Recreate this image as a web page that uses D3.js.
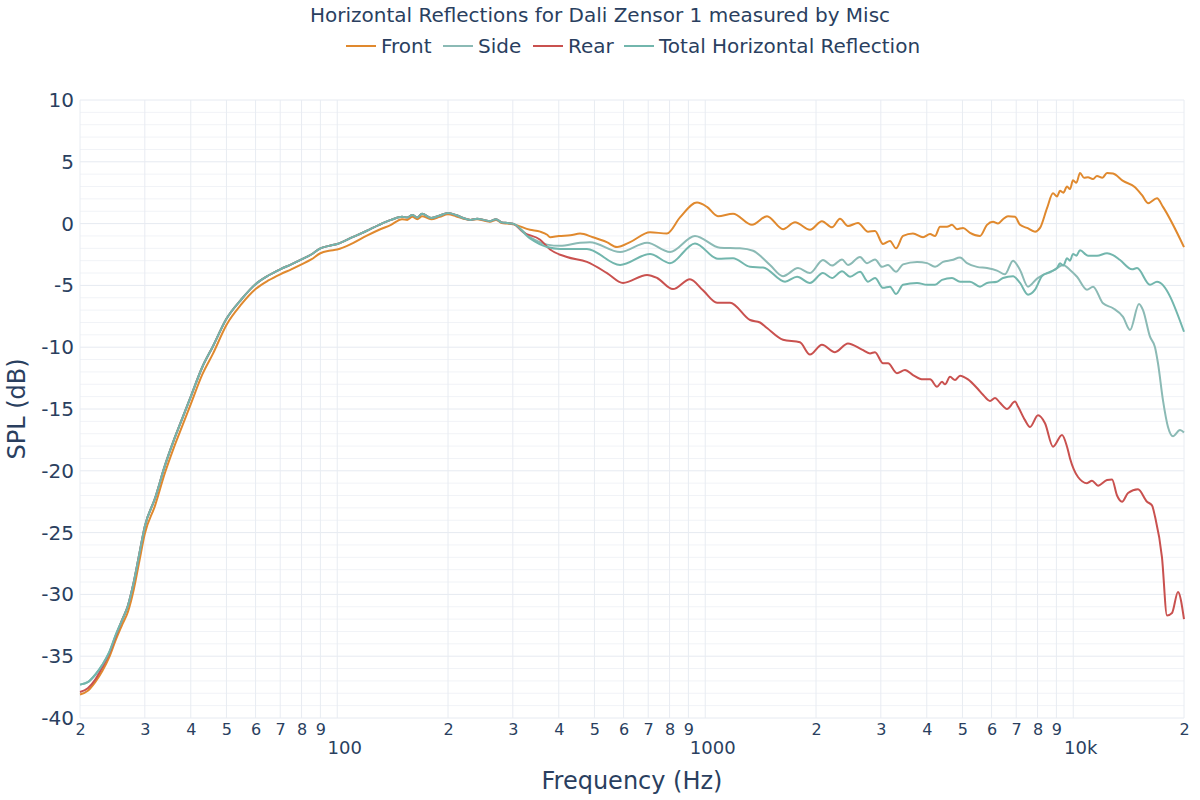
<!DOCTYPE html>
<html>
<head>
<meta charset="utf-8">
<script src="https://cdn.jsdelivr.net/npm/d3@7"></script>
<style>
  html, body { margin: 0; padding: 0; background: #fff; }
  svg { display: block; }
  text { font-family: "DejaVu Sans", Verdana, sans-serif; fill: #2a3f5f; }
</style>
</head>
<body>
<svg id="chart" width="1200" height="800"></svg>
<script>
// ---------------- DATA ----------------
const chartTitle = "Horizontal Reflections for Dali Zensor 1 measured by Misc";
const seriesNames = ["Front", "Side", "Rear", "Total Horizontal Reflection"];
const seriesColors = ["#e0892e", "#8bbab5", "#c9514f", "#72b6ad"];

const xTitle = "Frequency (Hz)";
const yTitle = "SPL (dB)";
const yTicks = [10, 5, 0, -5, -10, -15, -20, -25, -30, -35, -40];
const yTickLabels = ["10", "5", "0", "-5", "-10", "-15", "-20", "-25", "-30", "-35", "-40"];
const xMinorTicks = [20,30,40,50,60,70,80,90,200,300,400,500,600,700,800,900,2000,3000,4000,5000,6000,7000,8000,9000,20000];
const xMinorLabels = ["2","3","4","5","6","7","8","9","2","3","4","5","6","7","8","9","2","3","4","5","6","7","8","9","2"];
const xDecadeTicks = [100, 1000, 10000];
const xDecadeLabels = ["100", "1000", "10k"];

// Front
const frontFreq = [20,21,22,23,24,25,26,27,28,29,30,32,34,36,38,40,43,46,50,55,60,65,70,75,80,85,90,95,100,110,120,130,140,150,155,160,165,170,180,190,200,210,220,230,240,250,260,270,280,290,300,
  334,356,372,379,400,430,457,495,540,576,625,708,787,854,950,1011,1083,1190,1340,1472,1627,1754,1926,2076,2211,2324,2443,2601,2770,2893,3042,3177,3300,3448,3669,3908,4083,4212,4346,4539,4684,4834,5018,5243,5580,5830,6054,6246,6444,6649,6948,7168,7490,7874,8124,8488,8813,9036,9207,9400,9620,9800,9987,10200,10434,10700,10968,11300,11604,12000,12356,12829,13658,14722,15380,15968,16890,17536,20000];
const frontSPL = [-38.1,-37.8,-37.1,-36.2,-35.1,-33.7,-32.5,-31.4,-29.6,-27.3,-25.1,-22.8,-20.2,-18.1,-16.3,-14.6,-12.2,-10.5,-8.2,-6.5,-5.3,-4.6,-4.1,-3.7,-3.3,-2.9,-2.4,-2.2,-2.1,-1.6,-1.0,-0.5,-0.1,0.35,0.3,0.55,0.35,0.6,0.35,0.55,0.75,0.6,0.4,0.3,0.35,0.25,0.15,0.3,0.05,0.0,-0.05,
  -0.5,-0.65,-0.9,-1.1,-1.0,-0.95,-0.8,-1.1,-1.5,-1.9,-1.5,-0.7,-0.8,0.5,1.7,1.35,0.6,0.8,-0.1,0.6,-0.45,0.1,-0.5,0.2,-0.3,0.4,-0.2,0.05,-0.65,-0.6,-1.65,-1.4,-2.0,-1.0,-0.8,-1.1,-0.85,-1.0,-0.25,-0.25,-0.1,-0.45,-0.35,-0.75,-1.0,-0.1,0.15,0.0,0.35,0.6,0.55,-0.1,-0.35,-0.65,-0.35,1.25,2.45,2.2,2.65,2.5,3.0,2.8,3.5,3.3,4.1,3.7,3.75,3.6,3.85,3.7,4.1,4.05,3.45,2.95,2.3,1.65,2.05,1.35,-1.9];

// Side
const sideFreq = [20,21,22,23,24,25,26,27,28,29,30,32,34,36,38,40,43,46,50,55,60,65,70,75,80,85,90,95,100,110,120,130,140,150,155,160,165,170,180,190,200,210,220,230,240,250,260,270,280,290,300,
  334,372,403,457,486,587,695,802,938,1097,1243,1349,1500,1627,1787,1926,2089,2211,2354,2443,2634,2752,2893,3023,3138,3300,3448,3764,4008,4212,4428,4684,4925,5145,5476,5830,6207,6526,6861,7168,7537,7973,8278,8650,9036,9382,9802,10240,10900,11318,12050,12829,13658,14270,15092,15476,16168,16680,16996,17536,18094,18670,19502,20000];
const sideSPL = [-37.3,-37.1,-36.5,-35.7,-34.7,-33.3,-32.1,-30.9,-29.0,-26.7,-24.5,-22.2,-19.6,-17.5,-15.7,-14.0,-11.6,-9.9,-7.7,-6.1,-4.9,-4.2,-3.7,-3.3,-2.9,-2.5,-2.0,-1.8,-1.65,-1.1,-0.6,-0.1,0.3,0.55,0.5,0.7,0.5,0.8,0.45,0.65,0.85,0.7,0.45,0.3,0.4,0.3,0.2,0.35,0.1,0.05,0.0,
  -1.1,-1.7,-1.8,-1.55,-1.5,-2.3,-1.55,-2.3,-1.0,-1.95,-2.0,-2.2,-3.35,-4.25,-3.6,-4.0,-2.95,-3.4,-2.9,-3.35,-2.7,-3.2,-2.9,-3.5,-3.35,-3.9,-3.3,-3.1,-3.2,-3.5,-3.1,-2.95,-2.75,-3.2,-3.5,-3.6,-3.8,-4.1,-3.0,-3.75,-5.1,-4.45,-4.15,-3.95,-3.6,-3.35,-3.75,-4.3,-5.35,-5.1,-6.45,-6.85,-7.55,-8.6,-6.5,-7.0,-9.15,-10.0,-11.3,-14.3,-16.45,-17.2,-16.7,-16.9];

// Rear
const rearFreq = [20,21,22,23,24,25,26,27,28,29,30,32,34,36,38,40,43,46,50,55,60,65,70,75,80,85,90,95,100,110,120,130,140,150,155,160,165,170,180,190,200,210,220,230,240,250,260,270,280,290,300,
  320,356,379,421,477,541,598,695,740,817,909,986,1077,1168,1324,1409,1472,1627,1809,1926,2076,2252,2443,2667,2804,2893,3042,3138,3320,3490,3669,3908,4083,4265,4400,4484,4626,4773,4925,5177,5476,5686,5941,6130,6325,6607,6948,7079,7396,7631,8023,8382,8813,9323,9620,9802,10304,10900,11247,11678,12356,12748,13154,13573,14092,14999,15868,16370,16680,17426,17982,18554,19260,20000];
const rearSPL = [-37.9,-37.6,-36.9,-35.9,-34.8,-33.4,-32.1,-30.9,-29.0,-26.7,-24.5,-22.2,-19.6,-17.5,-15.7,-14.0,-11.6,-9.9,-7.7,-6.1,-4.9,-4.2,-3.7,-3.3,-2.9,-2.5,-2.0,-1.8,-1.65,-1.1,-0.6,-0.1,0.3,0.55,0.5,0.7,0.5,0.8,0.45,0.65,0.85,0.7,0.45,0.3,0.4,0.3,0.2,0.35,0.1,0.05,0.0,
  -0.7,-1.3,-2.1,-2.7,-3.1,-4.0,-4.8,-4.15,-4.4,-5.3,-4.5,-5.4,-6.4,-6.4,-7.8,-8.0,-8.45,-9.4,-9.6,-10.6,-9.8,-10.4,-9.7,-10.2,-10.5,-10.4,-11.3,-11.3,-12.1,-11.85,-12.25,-12.6,-12.6,-13.2,-12.8,-13.0,-12.4,-12.65,-12.3,-12.6,-13.3,-13.85,-14.35,-14.1,-14.5,-15.0,-14.4,-14.8,-15.9,-16.45,-15.5,-16.15,-18.05,-17.1,-18.05,-19.0,-20.5,-21.0,-20.8,-21.2,-20.75,-20.7,-22.0,-22.5,-21.8,-21.5,-22.5,-22.8,-23.7,-27.0,-31.7,-31.5,-29.8,-32.0];

// Total Horizontal Reflection
const totalFreq = [20,21,22,23,24,25,26,27,28,29,30,32,34,36,38,40,43,46,50,55,60,65,70,75,80,85,90,95,100,110,120,130,140,150,155,160,165,170,180,190,200,210,220,230,240,250,260,270,280,290,300,
  334,372,403,477,587,708,802,938,1083,1190,1324,1436,1648,1776,1926,2089,2211,2354,2474,2634,2770,2893,3042,3177,3300,3448,3764,4008,4212,4400,4684,4925,5243,5580,5830,6207,6444,6861,7168,7537,7874,8226,8650,9036,9207,9400,9620,9800,9987,10200,10434,10968,11604,12356,12829,13405,14448,14906,16168,16890,20000];
const totalSPL = [-37.3,-37.1,-36.5,-35.7,-34.7,-33.3,-32.1,-30.9,-29.0,-26.7,-24.5,-22.2,-19.6,-17.5,-15.7,-14.0,-11.6,-9.9,-7.7,-6.1,-4.9,-4.2,-3.7,-3.3,-2.9,-2.5,-2.0,-1.8,-1.65,-1.1,-0.6,-0.1,0.3,0.55,0.5,0.7,0.5,0.8,0.45,0.65,0.85,0.7,0.45,0.3,0.4,0.3,0.2,0.35,0.1,0.05,0.0,
  -1.2,-1.9,-2.05,-2.05,-3.35,-2.45,-3.2,-1.6,-2.85,-2.8,-3.5,-3.55,-4.7,-4.3,-4.8,-4.0,-4.4,-3.85,-4.3,-3.9,-4.7,-4.4,-5.2,-5.1,-5.7,-4.95,-4.8,-4.95,-4.95,-4.55,-4.4,-4.7,-4.7,-5.1,-4.8,-4.7,-4.4,-4.25,-4.8,-5.75,-5.35,-4.25,-3.9,-3.6,-3.2,-3.4,-2.8,-3.0,-2.45,-2.6,-2.15,-2.6,-2.6,-2.4,-2.55,-2.95,-3.7,-3.6,-4.95,-4.7,-8.75];

// ---------------- CHART ----------------
const svg = d3.select("#chart");
const mLeft = 80, mRight = 1184, mTop = 100, mBottom = 718;

const x = d3.scaleLog().domain([20, 20000]).range([mLeft, mRight]);
const y = d3.scaleLinear().domain([-40, 10]).range([mBottom, mTop]);

const grid = svg.append("g");
grid.selectAll("line.hmin").data(d3.range(-40, 11, 1).filter(v => v % 5 !== 0))
  .enter().append("line")
  .attr("x1", mLeft).attr("x2", mRight)
  .attr("y1", d => y(d)).attr("y2", d => y(d))
  .attr("stroke", "#f1f3f7").attr("stroke-width", 1);
grid.selectAll("line.hmaj").data(yTicks)
  .enter().append("line")
  .attr("x1", mLeft).attr("x2", mRight)
  .attr("y1", d => y(d)).attr("y2", d => y(d))
  .attr("stroke", "#e6eaf1").attr("stroke-width", 1);
grid.selectAll("line.v").data(xMinorTicks.concat(xDecadeTicks))
  .enter().append("line")
  .attr("x1", d => x(d)).attr("x2", d => x(d))
  .attr("y1", mTop).attr("y2", mBottom)
  .attr("stroke", "#e8ecf2").attr("stroke-width", 1);

const yAxis = d3.axisLeft(y).tickValues(yTicks).tickSize(0).tickPadding(6)
  .tickFormat((d, i) => yTickLabels[i]);
const yg = svg.append("g").attr("transform", `translate(${mLeft},0)`).call(yAxis);
yg.select(".domain").remove();
yg.selectAll("text").style("font-size", "20px").attr("fill", "#2a3f5f")
  .style("font-family", '"DejaVu Sans", sans-serif');

const xAxisMinor = d3.axisBottom(x).tickValues(xMinorTicks).tickSize(0).tickPadding(6)
  .tickFormat((d, i) => xMinorLabels[i]);
const xg = svg.append("g").attr("transform", `translate(0,${mBottom})`).call(xAxisMinor);
xg.select(".domain").remove();
xg.selectAll("text").style("font-size", "16px").attr("fill", "#2a3f5f")
  .style("font-family", '"DejaVu Sans", sans-serif');

const xAxisMajor = d3.axisBottom(x).tickValues(xDecadeTicks).tickSize(0).tickPadding(23)
  .tickFormat((d, i) => xDecadeLabels[i]);
const xg2 = svg.append("g").attr("transform", `translate(7,${mBottom})`).call(xAxisMajor);
xg2.select(".domain").remove();
xg2.selectAll("text").style("font-size", "18px").attr("fill", "#2a3f5f")
  .style("font-family", '"DejaVu Sans", sans-serif');

svg.append("text").attr("x", (mLeft + mRight) / 2).attr("y", 789)
  .attr("text-anchor", "middle").style("font-size", "24px").text(xTitle);
svg.append("text").attr("transform", `translate(25,${(mTop + mBottom) / 2}) rotate(-90)`)
  .attr("text-anchor", "middle").style("font-size", "24px").text(yTitle);

const freqs = [frontFreq, sideFreq, rearFreq, totalFreq];
const spls = [frontSPL, sideSPL, rearSPL, totalSPL];
const line = d3.line().x(d => x(d[0])).y(d => y(d[1])).curve(d3.curveMonotoneX);
const plot = svg.append("g");
seriesNames.forEach((name, i) => {
  const pts = freqs[i].map((f, j) => [f, spls[i][j]]);
  plot.append("path").datum(pts)
    .attr("d", line)
    .attr("fill", "none")
    .attr("stroke", seriesColors[i])
    .attr("stroke-width", 2)
    .attr("stroke-linejoin", "round");
});

svg.append("text").attr("x", 600).attr("y", 22).attr("text-anchor", "middle")
  .style("font-size", "20px").text(chartTitle);

const legendStarts = [346, 443, 533, 624];
const lg = svg.append("g");
seriesNames.forEach((name, i) => {
  const gx = legendStarts[i];
  lg.append("line").attr("x1", gx).attr("x2", gx + 30).attr("y1", 46).attr("y2", 46)
    .attr("stroke", seriesColors[i]).attr("stroke-width", 2);
  lg.append("text").attr("x", gx + 35).attr("y", 53).style("font-size", "20px").text(name);
});
</script>
</body>
</html>
